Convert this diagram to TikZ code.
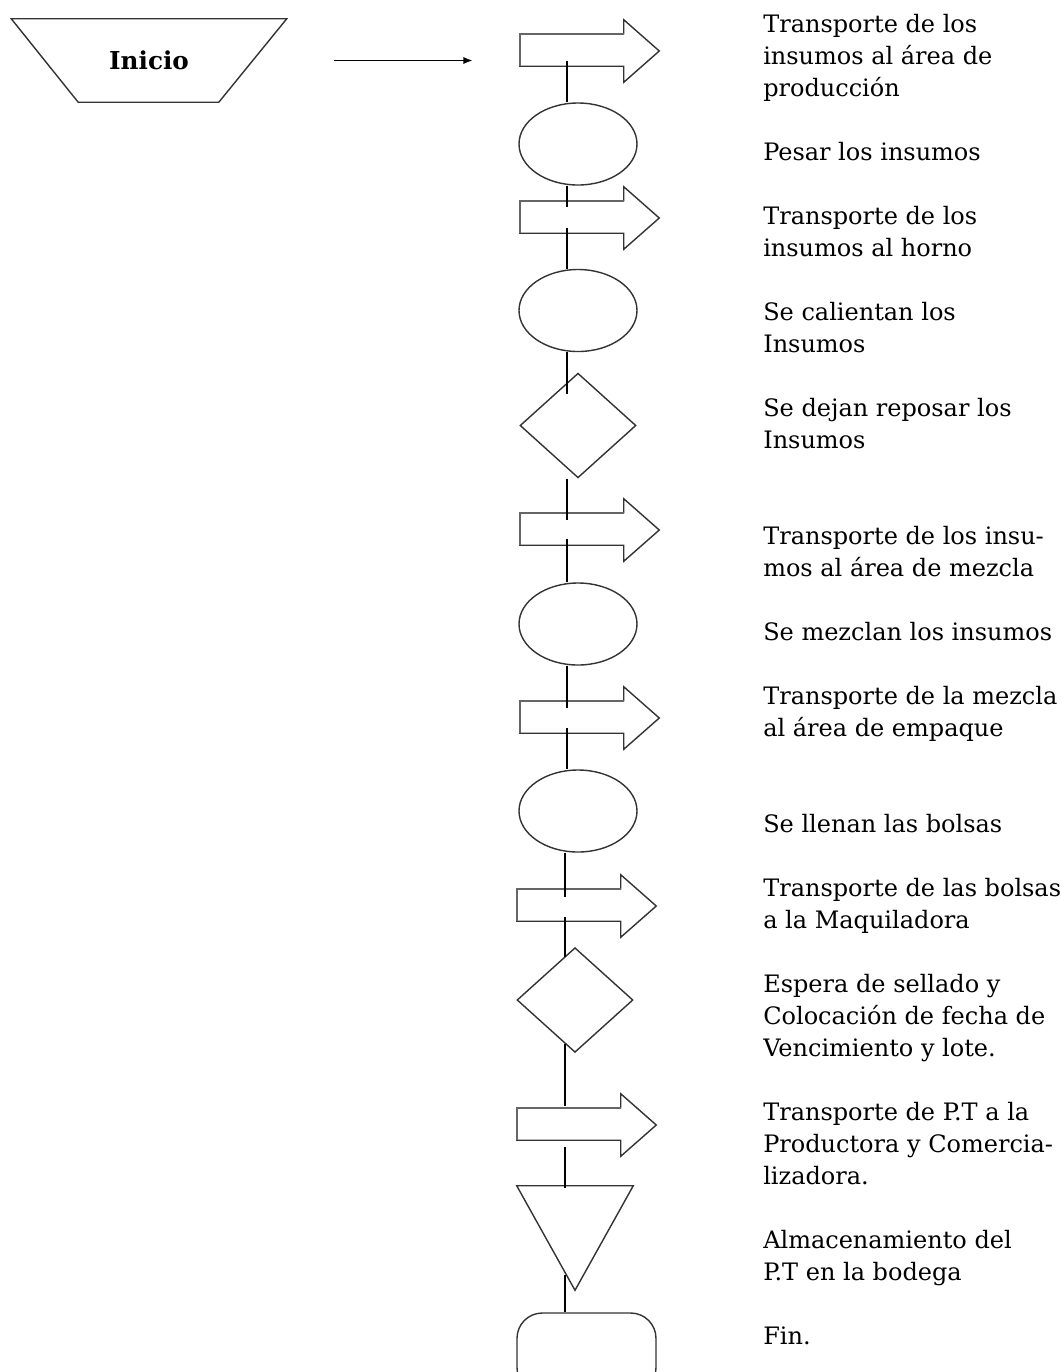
\documentclass[tikz,border=0pt]{standalone}
\usepackage{fontspec}
\setmainfont{DejaVu Serif}
\usetikzlibrary{shapes.geometric,calc,arrows.meta}
\newcommand\tarrowout[1]{%
  \draw[shp] ([shift={(0,14)}]#1.north west) -- ([shift={(104,14)}]#1.north west)
    -- ([shift={(104,0)}]#1.north west) -- (#1.east) -- ([shift={(104,0)}]#1.south west)
    -- ([shift={(104,-16)}]#1.south west) -- ([shift={(0,-16)}]#1.south west) -- cycle;
  \draw[shadeline] ([shift={(0,-16)}]#1.south west) -- ([shift={(0,14)}]#1.north west)
    -- ([shift={(104,14)}]#1.north west);}
\newcommand\trioutline[1]{%
  \draw[shp] (#1.north west) -- (#1.north east) -- (#1.south) -- cycle;}
\newcommand\trapoutline[1]{%
  \draw[shp] (#1.north west) -- (#1.north east) -- ([shift={(-68,0)}]#1.south east)
    -- ([shift={(67,0)}]#1.south west) -- cycle;}
\begin{document}
\begin{tikzpicture}[x=0.75pt,y=-0.75pt,
  shp/.style={draw=black!80, line width=1.05pt, line join=miter},
  shadeline/.style={draw=black!60, line width=1.8pt},
  conn/.style={draw=black, line width=1.3pt},
  abox/.style={inner sep=0, minimum width=104.25pt, minimum height=46.5pt},
  oval/.style={ellipse, draw=black!80, line width=1.05pt, inner sep=0, minimum width=88.5pt, minimum height=61.5pt},
  dia/.style={diamond, draw=black!80, line width=1.05pt, inner sep=0, minimum width=87pt, minimum height=78.5pt},
  tribox/.style={inner sep=0, minimum width=87pt, minimum height=78pt},
  lbl/.style={anchor=base west, inner sep=0, font=\fontsize{18}{24}\selectfont}]
\useasboundingbox (0,0) rectangle (1061,1372);
\clip (0,0) rectangle (1061,1372);
\fill[white] (0,0) rectangle (1061,1372);

\coordinate (sp1) at (567,0);
\coordinate (sp2) at (565,0);

% start
\node[inner sep=0, minimum width=206.25pt, minimum height=62.25pt, font=\fontsize{18.5}{24}\selectfont\bfseries] (ini) at (149,60.5) {Inicio};
\trapoutline{ini}

% shapes
\node[abox] (a1) at (589.5,51) {};   \tarrowout{a1}
\node[oval] (e1) at (578,144) {};
\node[abox] (a2) at (589.5,218) {};  \tarrowout{a2}
\node[oval] (e2) at (578,310.5) {};
\node[dia]  (d1) at (578,425.5) {};
\node[abox] (a3) at (589.5,530) {};  \tarrowout{a3}
\node[oval] (e3) at (578,624) {};
\node[abox] (a4) at (589.5,718) {};  \tarrowout{a4}
\node[oval] (e4) at (578,811) {};
\node[abox] (a5) at (586.5,906) {};  \tarrowout{a5}
\node[dia]  (d2) at (575,1000) {};
\node[abox] (a6) at (586.5,1125) {}; \tarrowout{a6}
\node[tribox] (t1) at (575,1238) {}; \trioutline{t1}
\node[draw=black!80, line width=1.05pt, rounded corners=19pt, inner sep=0,
      minimum width=104.25pt, minimum height=60pt] (fin) at (586.5,1353) {};

% start arrow
\draw[conn, -{Latex[length=7pt,width=5.5pt]}] ($(ini.east)+(47,0)$) -- ($(ini.east -| a1.west)+(-47,0)$);

% connectors
\draw[conn] ($(a1.south -| sp1)+(0,-21)$) -- (e1.north -| sp1);
\draw[conn] (e1.south -| sp1) -- ($(a2.north -| sp1)+(0,20)$);
\draw[conn] ($(a2.south -| sp1)+(0,-21)$) -- (e2.north -| sp1);
\draw[conn] (e2.south -| sp1) -- ($(d1.north -| sp1)+(0,22)$);
\draw[conn] (d1.south -| sp1) -- ($(a3.north -| sp1)+(0,21)$);
\draw[conn] ($(a3.south -| sp1)+(0,-22)$) -- (e3.north -| sp1);
\draw[conn] (e3.south -| sp1) -- ($(a4.north -| sp1)+(0,21)$);
\draw[conn] ($(a4.south -| sp1)+(0,-21)$) -- (e4.north -| sp1);
\draw[conn] (e4.south -| sp2) -- ($(a5.north -| sp2)+(0,22)$);
\draw[conn] ($(a5.south -| sp2)+(0,-20)$) -- ($(d2.north -| sp2)+(0,10)$);
\draw[conn] ($(d2.south -| sp2)+(0,-9)$) -- ($(a6.north -| sp2)+(0,12)$);
\draw[conn] ($(a6.south -| sp2)+(0,-9)$) -- ($(t1.north -| sp2)+(0,2)$);
\draw[conn] ($(t1.south -| sp2)+(0,-15)$) -- (fin.north -| sp2);

% labels
\foreach \k/\t [count=\i] in {
  0/Transporte de los, 1/insumos al área de, 2/producción,
  4/Pesar los insumos,
  6/Transporte de los, 7/insumos al horno,
  9/Se calientan los, 10/Insumos,
  12/Se dejan reposar los, 13/Insumos,
  16/Transporte de los insu-, 17/mos al área de mezcla,
  19/Se mezclan los insumos,
  21/Transporte de la mezcla, 22/al área de empaque,
  25/Se llenan las bolsas,
  27/Transporte de las bolsas, 28/a la Maquiladora,
  30/Espera de sellado y, 31/Colocación de fecha de, 32/Vencimiento y lote.,
  34/Transporte de P.T a la, 35/Productora y Comercia-, 36/lizadora.,
  38/Almacenamiento del, 39/P.T en la bodega,
  41/Fin.}
  \node[lbl] (t\i) at (763,32+32*\k) {\t};
\end{tikzpicture}
\end{document}
